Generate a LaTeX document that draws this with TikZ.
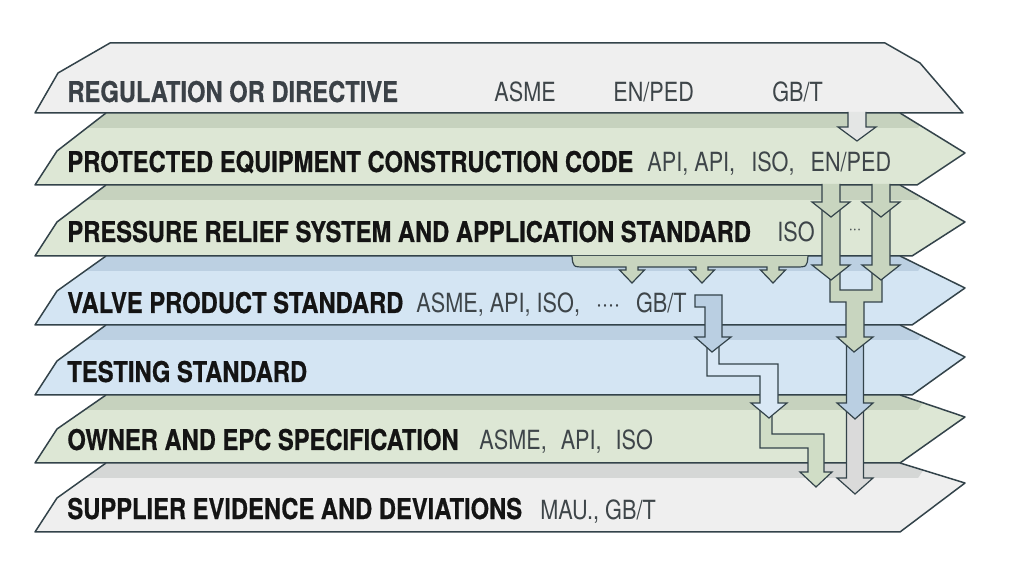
\documentclass[tikz,border=0pt]{standalone}
\usepackage{fontspec}
\newfontfamily\condfont[FakeStretch=0.82]{TeX Gyre Heros}
\newfontfamily\titlefont[FakeStretch=0.83, FakeBold=0.6]{TeX Gyre Heros}

\definecolor{edge}{HTML}{33434A}
\definecolor{titleink}{HTML}{141414}
\definecolor{topink}{HTML}{3B4147}
\definecolor{codeink}{HTML}{3E4549}
\definecolor{graylayer}{HTML}{EFEFEF}
\definecolor{grayshadow}{HTML}{D5D7D6}
\definecolor{greenlayer}{HTML}{DDE7D5}
\definecolor{greenshadow}{HTML}{C6D2BE}
\definecolor{bluelayer}{HTML}{D4E5F3}
\definecolor{blueshadow}{HTML}{BCD0E2}
\definecolor{lightblock}{HTML}{E4E6E5}
\definecolor{greenblock}{HTML}{C8D5BF}
\definecolor{oliveblock}{HTML}{D0DDC6}
\definecolor{blueblock}{HTML}{BACFE2}
\definecolor{paleblock}{HTML}{D9E8F5}
\definecolor{grayblock}{HTML}{DADADA}

\tikzset{
  slab edge/.style={draw=edge, line width=0.75pt, line join=round},
  block/.style={draw=edge, line width=0.6pt},
  title/.style={font=\titlefont\bfseries\fontsize{14.3}{16}\selectfont, text=titleink,
                anchor=base west, inner sep=0pt},
  codes/.style={font=\condfont\fontsize{13.2}{15}\selectfont, text=codeink,
                anchor=base west, inner sep=0pt}
}

% one layer: top y, bottom y, point y, lower right x, fill, shadow
\newcommand{\slab}[6]{%
  \begin{scope}
    \clip (35,#2) -- (57,#2-34) -- (106,#1) -- (900,#1) -- (965,#3) -- (#4,#2) -- cycle;
    \fill[#5] (0,#1) rectangle (1024,#2);
    \fill[#6] (0,#1) -- (928,#1) -- (918,#1+15) -- (0,#1+15) -- cycle;
  \end{scope}
  \draw[slab edge] (106,#1) -- (57,#2-34) -- (35,#2) -- (#4,#2) -- (965,#3) -- (900,#1);
}

% straight block arrow: x, shaft half width, head half width, top y, head y, tip y, fill
\newcommand{\dnarrow}[7]{%
  \filldraw[block, fill=#7] (#1-#2,#4) -- (#1-#2,#5) -- (#1-#3,#5) -- (#1,#6)
    -- (#1+#3,#5) -- (#1+#2,#5) -- (#1+#2,#4);
}

\begin{document}
\begin{tikzpicture}[x=0.5pt, y=-0.5pt]
  \useasboundingbox (0,0) rectangle (1024,572);
  \fill[white] (0,0) rectangle (1024,572);

  % Layers, lowest first
  \slab{463}{532}{483}{900}{graylayer}{grayshadow}
  \slab{395}{463}{417}{900}{greenlayer}{greenshadow}
  \slab{325}{395}{357}{912}{bluelayer}{blueshadow}
  \slab{256}{325}{288}{912}{bluelayer}{blueshadow}
  \slab{185}{256}{222}{912}{greenlayer}{greenshadow}
  \slab{113}{185}{153}{917}{greenlayer}{greenshadow}
  \filldraw[slab edge, fill=graylayer]
    (35,113) -- (58,73) -- (110,43) -- (885,43) -- (920,63) -- (963,113) -- cycle;

  % Layer titles
  \node[title, text=topink] (reg) at (67,102) {REGULATION OR DIRECTIVE};
  \node[title] (pec) at (67,172) {PROTECTED EQUIPMENT CONSTRUCTION CODE};
  \node[title] (prs) at (67,242) {PRESSURE RELIEF SYSTEM AND APPLICATION STANDARD};
  \node[title] (vps) at (67,313) {VALVE PRODUCT STANDARD};
  \node[title] (tst) at (67,382) {TESTING STANDARD};
  \node[title] (own) at (67,450) {OWNER AND EPC SPECIFICATION};
  \node[title] (sup) at (67,519) {SUPPLIER EVIDENCE AND DEVIATIONS};

  % Codes
  \node[codes] (regasme) at (494,102) {ASME};
  \node[codes] (regen) at (613,102) {EN/PED};
  \node[codes] (reggb) at (772,102) {GB/T};
  \node[codes] (peccodes) at (647,172) {API, API,\hspace{8pt}ISO,\hspace{8pt}EN/PED};
  \node[codes] (prsiso) at (777,242) {ISO};
  \node[codes, anchor=center, font=\condfont\fontsize{9}{10}\selectfont] (prsmore) at (855,232) {···};
  \node[codes] (vpscodes) at (416,313) {ASME, API, ISO,\hspace{8pt}····\hspace{8pt}GB/T};
  \node[codes] (owncodes) at (479,450) {ASME,\hspace{7pt}API,\hspace{7pt}ISO};
  \node[codes] (supcodes) at (540,519) {MAU., GB/T};

  % Right column, lowest first
  \dnarrow{855}{8.5}{18}{406}{478}{494}{grayblock}
  \dnarrow{855}{8.5}{18}{340}{403}{419}{blueblock}
  \filldraw[block, fill=greenblock]
    (830,268) -- (830,302) -- (846,302) -- (846,337) -- (837,337) -- (854,352)
    -- (873,337) -- (864,337) -- (864,302) -- (882,302) -- (882,268)
    -- (872,268) -- (872,290) -- (840,290) -- (840,268) -- cycle;
  \dnarrow{831}{9}{19}{205}{265}{280}{greenblock}
  \dnarrow{881}{9}{19}{205}{265}{280}{greenblock}
  \dnarrow{831}{9}{19}{184}{202}{217}{greenblock}
  \dnarrow{881}{9}{19}{184}{202}{217}{greenblock}
  \dnarrow{857}{9}{19}{112}{127}{141}{lightblock}

  % Stepped arrows from GB/T
  \filldraw[block, fill=oliveblock]
    (760,405) -- (760,448) -- (808,448) -- (808,472) -- (800,472) -- (816,487)
    -- (832,472) -- (824,472) -- (824,434) -- (772,434) -- (772,405);
  \filldraw[block, fill=paleblock]
    (707,340) -- (707,376) -- (760,376) -- (760,403) -- (751,403) -- (769,418)
    -- (787,403) -- (778,403) -- (778,364) -- (719,364) -- (719,340);
  \filldraw[block, fill=blueblock]
    (695,295) -- (722,295) -- (722,337) -- (731,337) -- (712,352) -- (695,337)
    -- (705,337) -- (705,307) -- (695,307) -- cycle;

  % Bracket under the application standard
  \filldraw[block, fill=greenblock]
    (572,256) .. controls (573,267) .. (585,267)
    \foreach \hx in {632,702,773} {
      -- (\hx-6,267) -- (\hx-6,270) -- (\hx-12.5,270) -- (\hx,283)
      -- (\hx+12.5,270) -- (\hx+6,270) -- (\hx+6,267)
    }
    -- (795,267) .. controls (807,267) .. (808,256);
\end{tikzpicture}
\end{document}
